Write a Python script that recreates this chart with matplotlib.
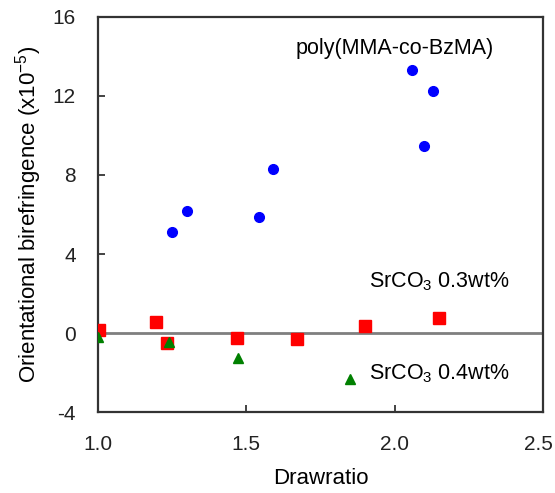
import matplotlib
matplotlib.use("Agg")
import matplotlib.pyplot as plt
from matplotlib.transforms import ScaledTranslation

plt.rcParams["font.family"] = ["Liberation Sans", "DejaVu Sans"]
plt.rcParams["mathtext.fontset"] = "custom"
plt.rcParams["mathtext.rm"] = "Liberation Sans"
plt.rcParams["mathtext.it"] = "Liberation Sans"
plt.rcParams["axes.unicode_minus"] = False

# poly(MMA-co-BzMA)
poly_x = [1.248, 1.301, 1.542, 1.589, 2.059, 2.130, 2.100]
poly_y = [5.10, 6.19, 5.86, 8.29, 13.30, 12.23, 9.46]

# SrCO3 0.3wt%
sr03_x = [1.002, 1.197, 1.234, 1.467, 1.670, 1.899, 2.150]
sr03_y = [0.19, 0.58, -0.51, -0.23, -0.31, 0.39, 0.79]

# SrCO3 0.4wt%
sr04_x = [1.0, 1.240, 1.472, 1.849]
sr04_y = [-0.18, -0.43, -1.23, -2.32]

xticks = [1.0, 1.5, 2.0, 2.5]
yticks = [-4, 0, 4, 8, 12, 16]

fig = plt.figure(figsize=(5.55, 4.93), dpi=100)
ax = fig.add_axes([0.1766, 0.1633, 0.8018, 0.8032])

ax.axhline(0, color="#7f7f7f", linewidth=2, zorder=1)

ax.plot(sr03_x, sr03_y, "s", color="#ff0000", markersize=8, zorder=3)
ax.plot(sr04_x, sr04_y, "^", color="#008000", markersize=7.5, zorder=4)
ax.plot(poly_x, poly_y, "o", color="#0000ff", markersize=7, zorder=3)

ax.text(2.0, 14.4, "poly(MMA-co-BzMA)", fontsize=15.5, ha="center", va="center")
ax.text(1.915, 2.6, "SrCO$_3$ 0.3wt%", fontsize=15.5, ha="left", va="center")
ax.text(1.915, -2.05, "SrCO$_3$ 0.4wt%", fontsize=15.5, ha="left", va="center")

ax.set_xlim(1.0, 2.5)
ax.set_ylim(-4, 16)
ax.set_xticks(xticks)
ax.set_xticklabels([f"{t:.1f}" for t in xticks])
ax.set_yticks(yticks)
ax.tick_params(direction="in", length=5, width=1.2, labelsize=15,
               colors="#222222")
ax.tick_params(axis="x", pad=16)
ax.tick_params(axis="y", pad=16)
for spine in ax.spines.values():
    spine.set_linewidth(1.6)
    spine.set_color("#333333")

# keep the last x tick label inside the figure, as in the reference
last = ax.get_xticklabels()[-1]
last.set_transform(last.get_transform() + ScaledTranslation(-5 / 100, 0, fig.dpi_scale_trans))

ax.set_xlabel("Drawratio", fontsize=16, labelpad=10)
ax.set_ylabel("Orientational birefringence (x10$^{-5}$)", fontsize=16, labelpad=6)

fig.savefig("out.png", dpi=100)
